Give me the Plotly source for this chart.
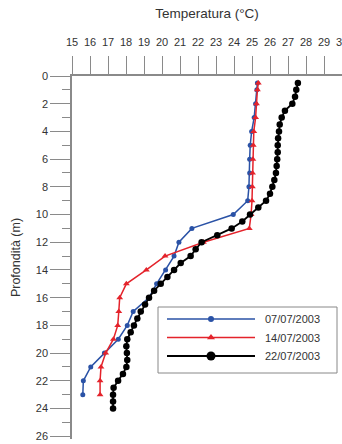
import plotly.graph_objects as go

# ---- data ----
series_names = ["07/07/2003", "14/07/2003", "22/07/2003"]

depth_blue = [0.5, 1, 2, 3, 4, 5, 6, 7, 8, 9, 10, 11, 12, 13, 14, 15, 16, 17, 18, 19, 20, 21, 22, 23]
temp_blue = [25.3, 25.27, 25.2, 25.12, 24.98, 24.9, 24.87, 24.87, 24.83, 24.76, 23.96, 21.66,
             20.94, 20.67, 20.2, 19.7, 19.28, 18.4, 18.07, 17.57, 16.8, 16.04, 15.63, 15.6]

depth_red = [0.5, 1, 2, 3, 4, 5, 6, 7, 8, 9, 10, 11, 12, 13, 14, 15, 16, 17, 18, 19, 20, 21, 22, 23]
temp_red = [25.35, 25.3, 25.25, 25.2, 25.1, 25.07, 25.05, 25.03, 25.02, 25.0, 24.95, 24.85,
            22.3, 20.17, 19.13, 18.02, 17.65, 17.6, 17.54, 17.3, 16.87, 16.61, 16.56, 16.56]

depth_black = [0.5, 1, 1.5, 2, 2.5, 3, 3.5, 4, 4.5, 5, 5.5, 6, 6.5, 7, 7.5, 8, 8.5, 9, 9.5, 10,
               10.5, 11, 11.5, 12, 12.5, 13, 13.5, 14, 14.5, 15, 15.5, 16, 16.5, 17, 17.5, 18,
               18.5, 19, 19.5, 20, 20.5, 21, 21.5, 22, 22.5, 23, 23.5, 24]
temp_black = [27.55, 27.46, 27.39, 27.24, 26.83, 26.65, 26.54, 26.5, 26.45, 26.43, 26.43, 26.4,
              26.37, 26.33, 26.24, 26.13, 26.0, 25.78, 25.35, 24.89, 24.46, 23.87, 23.07, 22.2,
              21.87, 21.59, 21.04, 20.67, 20.3, 19.93, 19.56, 19.28, 19.06, 18.82, 18.63, 18.44,
              18.26, 18.07, 18.02, 18.05, 18.07, 18.02, 17.83, 17.56, 17.31, 17.28, 17.28, 17.28]

x_ticks = list(range(15, 31))
y_ticks = list(range(0, 27, 2))

# ---- styles ----
colors = ["#2a52a6", "#e4232b", "#000000"]
symbols = ["circle", "triangle-up", "circle"]
msizes = [5, 6, 6.5]
lwidths = [1.5, 1.5, 1.8]

W, H = 342, 444
ML, MR, MT, MB = 72, 0, 76, 5

fig = go.Figure()
data = [(temp_blue, depth_blue), (temp_red, depth_red), (temp_black, depth_black)]
for (t, d), name, c, s, ms, lw in zip(data, series_names, colors, symbols, msizes, lwidths):
    fig.add_trace(go.Scatter(x=t, y=d, mode="lines+markers", name=name,
                             line=dict(color=c, width=lw),
                             marker=dict(color=c, symbol=s, size=ms),
                             showlegend=False, cliponaxis=False))

# ---- manual legend drawn on a pixel-space overlay axis ----
leg_x0, leg_x1, leg_y0, leg_y1 = 158, 337, 307, 373
leg_rows = [319, 337.5, 356]
leg_msizes = [6, 7, 9]
line_x0, line_x1 = 167, 255
for name, c, s, ms, lw, yy in zip(series_names, colors, symbols, leg_msizes, lwidths, leg_rows):
    fig.add_trace(go.Scatter(x=[line_x0, line_x1], y=[yy, yy], mode="lines",
                             line=dict(color=c, width=lw), xaxis="x2", yaxis="y2",
                             showlegend=False, hoverinfo="skip"))
    fig.add_trace(go.Scatter(x=[(line_x0 + line_x1) / 2], y=[yy], mode="markers",
                             marker=dict(color=c, symbol=s, size=ms), xaxis="x2", yaxis="y2",
                             showlegend=False, hoverinfo="skip"))
    fig.add_annotation(x=263, y=yy, xref="x2", yref="y2", text=name, showarrow=False,
                       xanchor="left", yanchor="middle",
                       font=dict(family="Liberation Sans, Arial", size=11, color="#333"))

fig.add_shape(type="rect", xref="x2", yref="y2", x0=leg_x0, x1=leg_x1, y0=leg_y0, y1=leg_y1,
              line=dict(color="#888", width=1), fillcolor="rgba(0,0,0,0)")

# last (partly cut) top tick label at the right edge
fig.add_annotation(x=x_ticks[-1], y=42, xref="x", yref="paper", yshift=0, text=str(x_ticks[-1]),
                   showarrow=False, xanchor="center", yanchor="middle",
                   font=dict(family="Liberation Sans, Arial", size=11, color="#333"))

axcol = "#8a8a8a"
fig.update_layout(
    width=W, height=H,
    margin=dict(l=ML, r=MR, t=MT, b=MB, pad=0),
    paper_bgcolor="white", plot_bgcolor="white",
    font=dict(family="Liberation Sans, Arial", color="#333"),
    showlegend=False,
    xaxis=dict(side="top", range=[15, 30], tickvals=x_ticks, ticktext=[str(v) for v in x_ticks],
               ticks="outside", ticklen=18, tickwidth=1, tickcolor=axcol,
               showline=True, linecolor=axcol, linewidth=1.5, showgrid=False, zeroline=False,
               tickfont=dict(size=11, color="#333"), ticklabelstandoff=6,
               title=dict(text="Temperatura (°C)", font=dict(size=13.5, color="#333"), standoff=14)),
    yaxis=dict(range=[26.2, 0], tickvals=y_ticks, ticktext=[str(v) for v in y_ticks],
               ticks="outside", ticklen=20, tickwidth=1, tickcolor=axcol,
               minor=dict(dtick=1, tick0=1, ticks="outside", ticklen=8, tickcolor=axcol, tickwidth=1),
               showline=True, linecolor=axcol, linewidth=1.5, showgrid=False, zeroline=False,
               tickfont=dict(size=11, color="#333"),
               title=dict(text="Profondità (m)", font=dict(size=12.5, color="#333"), standoff=12)),
    xaxis2=dict(overlaying="x", range=[ML, W - MR], visible=False, fixedrange=True),
    yaxis2=dict(overlaying="y", range=[H - MB, MT], visible=False, fixedrange=True),
)

# position the extra "30" label in pixel terms: convert y=42px from top into paper coords
plot_h = H - MT - MB
fig.layout.annotations[-1].y = 1 + (MT - 42) / plot_h

fig.write_html("out.html")
